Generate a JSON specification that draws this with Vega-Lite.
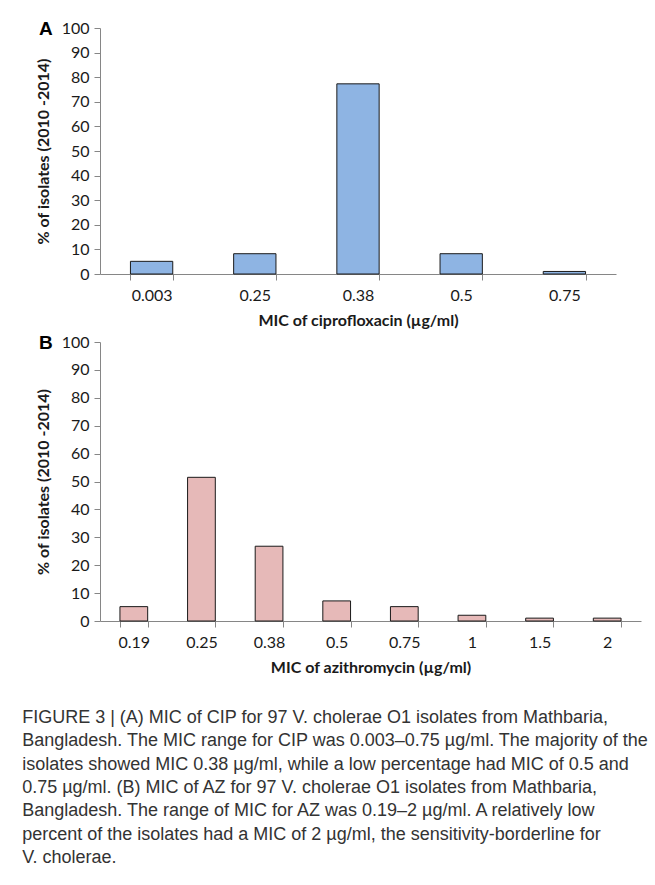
{
  "$schema": "https://vega.github.io/schema/vega-lite/v6.json",
  "background": "white",
  "padding": {"left": 22, "top": 20, "right": 0, "bottom": 0},
  "spacing": 6,
  "title": {
    "text": [
      "FIGURE 3 | (A) MIC of CIP for 97 V. cholerae O1 isolates from Mathbaria,",
      "Bangladesh. The MIC range for CIP was 0.003–0.75 µg/ml. The majority of the",
      "isolates showed MIC 0.38 µg/ml, while a low percentage had MIC of 0.5 and",
      "0.75 µg/ml. (B) MIC of AZ for 97 V. cholerae O1 isolates from Mathbaria,",
      "Bangladesh. The range of MIC for AZ was 0.19–2 µg/ml. A relatively low",
      "percent of the isolates had a MIC of 2 µg/ml, the sensitivity-borderline for",
      "V. cholerae."
    ],
    "orient": "bottom",
    "anchor": "start",
    "frame": "bounds",
    "font": "Liberation Sans",
    "fontSize": 18,
    "fontWeight": "normal",
    "color": "#333333",
    "lineHeight": 23.3,
    "offset": 34,
    "dx": -13
  },
  "vconcat": [
    {
      "width": 516,
      "height": 246,
      "title": {"text": "A", "anchor": "start", "frame": "group", "orient": "top", "dx": -61, "dy": 19, "offset": 0, "fontSize": 19, "fontWeight": "bold", "font": "Liberation Sans", "color": "#000000"},
      "data": {"values": [
        {"mic": "0.003", "pct": 5.15},
        {"mic": "0.25", "pct": 8.25},
        {"mic": "0.38", "pct": 77.3},
        {"mic": "0.5", "pct": 8.25},
        {"mic": "0.75", "pct": 1.03}
      ]},
      "mark": {"type": "bar", "fill": "#8EB4E3", "stroke": "#1a1a1a", "strokeWidth": 1},
      "encoding": {
        "x": {"field": "mic", "type": "ordinal", "sort": null,
              "scale": {"paddingInner": 0.59, "paddingOuter": 0.295},
              "axis": {"title": "MIC of ciprofloxacin (µg/ml)", "labelAngle": 0, "tickBand": "extent"}},
        "y": {"field": "pct", "type": "quantitative", "scale": {"domain": [0, 100]},
              "axis": {"values": [0, 10, 20, 30, 40, 50, 60, 70, 80, 90, 100], "title": "% of isolates (2010 -2014)", "grid": false}}
      }
    },
    {
      "width": 541,
      "height": 279,
      "title": {"text": "B", "anchor": "start", "frame": "group", "orient": "top", "dx": -61, "dy": 19, "offset": 0, "fontSize": 19, "fontWeight": "bold", "font": "Liberation Sans", "color": "#000000"},
      "data": {"values": [
        {"mic": "0.19", "pct": 5.15},
        {"mic": "0.25", "pct": 51.5},
        {"mic": "0.38", "pct": 26.8},
        {"mic": "0.5", "pct": 7.2},
        {"mic": "0.75", "pct": 5.15},
        {"mic": "1", "pct": 2.06},
        {"mic": "1.5", "pct": 1.03},
        {"mic": "2", "pct": 1.03}
      ]},
      "mark": {"type": "bar", "fill": "#E6B9B8", "stroke": "#1a1a1a", "strokeWidth": 1},
      "encoding": {
        "x": {"field": "mic", "type": "ordinal", "sort": null,
              "scale": {"paddingInner": 0.59, "paddingOuter": 0.295},
              "axis": {"title": "MIC of azithromycin (µg/ml)", "labelAngle": 0, "tickBand": "extent"}},
        "y": {"field": "pct", "type": "quantitative", "scale": {"domain": [0, 100]},
              "axis": {"values": [0, 10, 20, 30, 40, 50, 60, 70, 80, 90, 100], "title": "% of isolates (2010 -2014)", "grid": false}}
      }
    }
  ],
  "config": {
    "view": {"stroke": null},
    "axis": {
      "domainColor": "#868686", "tickColor": "#868686", "tickSize": 6,
      "labelFont": "Lato", "labelFontSize": 16, "labelColor": "#1a1a1a",
      "titleFont": "Lato", "titleFontSize": 16, "titleFontWeight": "bold", "titleColor": "#1a1a1a"
    },
    "axisX": {"labelPadding": 7, "titlePadding": 9},
    "axisY": {"labelPadding": 5, "titlePadding": 10}
  }
}
